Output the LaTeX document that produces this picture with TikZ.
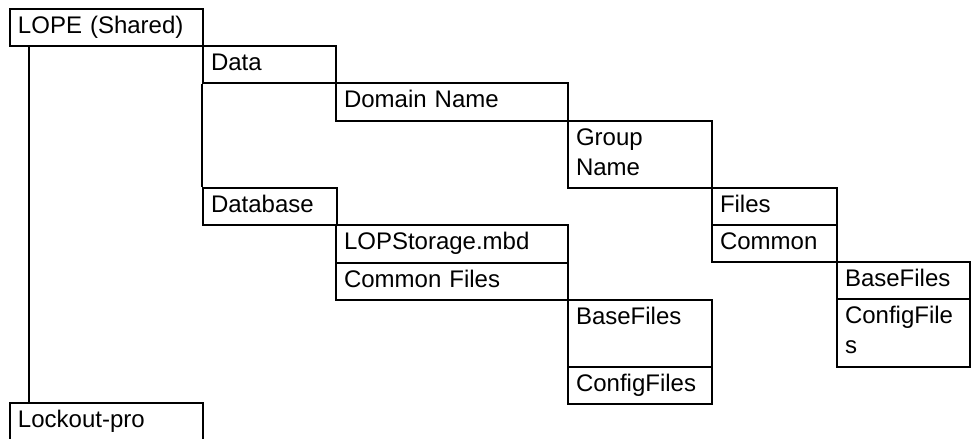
\documentclass[tikz,border=0pt]{standalone}
\usepackage{fontspec}
\setmainfont{Liberation Sans}

\begin{document}
\begin{tikzpicture}[x=0.5pt,y=-0.5pt]
    \tikzstyle{cell}=[draw, line width=1pt, anchor=north west, align=left, inner xsep=4pt, inner ysep=0pt, text height=12pt, font=\fontsize{12}{15}\selectfont]
    \tikzstyle{link}=[line width=1pt]
    \useasboundingbox (0,0) rectangle (971,439);

    % first level
    \node[cell, text width=88.5pt, text depth=6.5pt] (lope) at (9,8) {LOPE (Shared)};
    \node[cell, text width=88.5pt, text depth=8pt] (lockout) at (9,402) {Lockout-pro};

    % Data branch
    \node[cell, text width=58.5pt, text depth=6.5pt] (data) at (202,45) {Data};
    \node[cell, text width=108pt, text depth=7pt] (domain) at (335,82) {Domain Name};
    \node[cell, text width=64pt, text depth=21.5pt] (group) at (567,120) {Group\\Name};
    \node[cell, text width=54.5pt, text depth=6.5pt] (files) at (711,187) {Files};
    \node[cell, text width=54.5pt, text depth=6.5pt] (common) at (711,224) {Common};
    \node[cell, text width=58.5pt, text depth=6.5pt] (basetwo) at (836,261) {BaseFiles};
    \node[cell, text width=58.5pt, text depth=22pt] (configtwo) at (836,298) {ConfigFile\\s};

    % Database branch
    \node[cell, text width=59pt, text depth=6.5pt] (database) at (202,187) {Database};
    \node[cell, text width=108pt, text depth=7pt] (storage) at (335,224) {LOPStorage.mbd};
    \node[cell, text width=108pt, text depth=6.5pt] (comfiles) at (335,262) {Common Files};
    \node[cell, text width=64pt, text depth=21.5pt] (baseone) at (567,299) {BaseFiles};
    \node[cell, text width=64pt, text depth=6.5pt] (configone) at (567,366) {ConfigFiles};

    \draw[link] ([xshift=10pt]lope.south west) -- ([xshift=10pt]lockout.north west);
    \draw[link] (data.south west) -- (database.north west);
\end{tikzpicture}
\end{document}
